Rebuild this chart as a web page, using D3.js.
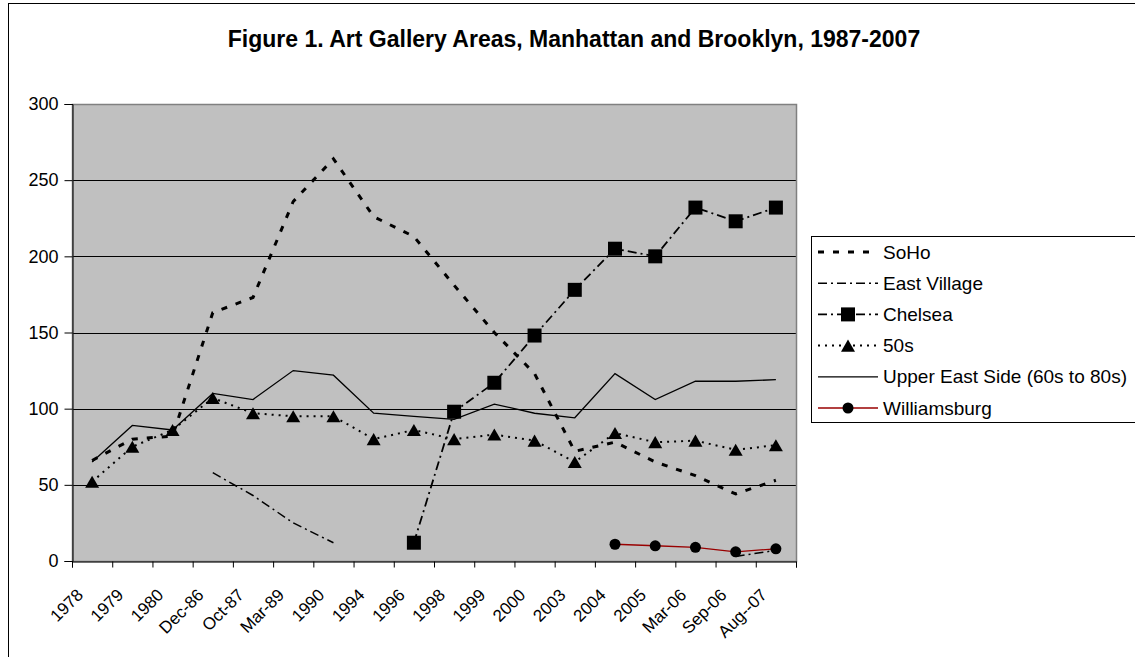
<!DOCTYPE html>
<html>
<head>
<meta charset="utf-8">
<script src="https://cdn.jsdelivr.net/npm/d3@7"></script>
<style>
  body { margin: 0; background: #fff; }
  svg { display: block; font-family: Arial, "Liberation Sans", sans-serif; }
</style>
</head>
<body>
<div id="chart"></div>
<script>
const categories = ["1978", "1979", "1980", "Dec-86", "Oct-87", "Mar-89", "1990", "1994", "1996",
  "1998", "1999", "2000", "2003", "2004", "2005", "Mar-06", "Sep-06", "Aug--07"];

const soho        = [66, 80, 82, 163, 173, 236, 264, 226, 213, 181, 150, 123, 72, 78, 65, 56, 44, 53];
const eastVillage = [null, null, null, 58, 43, 25, 12, null, null, null, null, null, null, null, null, null, 3, 7];
const chelsea     = [null, null, null, null, null, null, null, null, 12, 98, 117, 148, 178, 205, 200, 232, 223, 232];
const fifties     = [52, 75, 86, 107, 97, 95, 95, 80, 86, 80, 83, 79, 65, 84, 78, 79, 73, 76];
const upperEast   = [65, 89, 86, 110, 106, 125, 122, 97, 95, 93, 103, 97, 94, 123, 106, 118, 118, 119];
const williamsburg = [null, null, null, null, null, null, null, null, null, null, null, null, null, 11, 10, 9, 6, 8];

const yTicks = [0, 50, 100, 150, 200, 250, 300];
const title = "Figure 1. Art Gallery Areas, Manhattan and Brooklyn, 1987-2007";

const series = [
  { name: "SoHo", values: soho, stroke: "#000", width: 3, dash: "6,9", marker: null },
  { name: "East Village", values: eastVillage, stroke: "#000", width: 1.5, dash: "9,4,2,4", marker: null },
  { name: "Chelsea", values: chelsea, stroke: "#000", width: 1.8, dash: "9,4,2,4", marker: "square" },
  { name: "50s", values: fifties, stroke: "#000", width: 2, dash: "2,5", marker: "triangle" },
  { name: "Upper East Side (60s to 80s)", values: upperEast, stroke: "#000", width: 1.3, dash: null, marker: null },
  { name: "Williamsburg", values: williamsburg, stroke: "#990000", width: 1.3, dash: null, marker: "circle" }
];

const W = 1135, H = 657;
const plot = { left: 72, right: 796, top: 104, bottom: 561 };

const svg = d3.select("#chart").append("svg")
  .attr("width", W)
  .attr("height", H);

svg.append("rect")
  .attr("width", W).attr("height", H)
  .attr("fill", "#fff");

// chart area border (runs off the right/bottom edge like the source)
svg.append("rect")
  .attr("x", 8.5).attr("y", 3.5)
  .attr("width", 1200).attr("height", 700)
  .attr("fill", "none")
  .attr("stroke", "#000")
  .attr("stroke-width", 1);

svg.append("text")
  .attr("x", 574)
  .attr("y", 47)
  .attr("text-anchor", "middle")
  .style("font-size", "23px")
  .style("font-weight", "bold")
  .text(title);

const x = d3.scaleBand()
  .domain(categories)
  .range([plot.left, plot.right]);

const xIdx = d3.scaleLinear()
  .domain([0, categories.length])
  .range([plot.left, plot.right]);

const y = d3.scaleLinear()
  .domain([0, 300])
  .range([plot.bottom, plot.top]);

const cx = c => x(c) + x.bandwidth() / 2;

svg.append("rect")
  .attr("x", plot.left).attr("y", plot.top)
  .attr("width", plot.right - plot.left)
  .attr("height", plot.bottom - plot.top)
  .attr("fill", "#c0c0c0");

// gridlines
svg.append("g")
  .selectAll("line")
  .data(yTicks.filter(d => d > 0 && d < 300))
  .join("line")
  .attr("x1", plot.left).attr("x2", plot.right)
  .attr("y1", d => Math.round(y(d)) + 0.5)
  .attr("y2", d => Math.round(y(d)) + 0.5)
  .attr("stroke", "#000")
  .attr("stroke-width", 1);

// plot border
svg.append("rect")
  .attr("x", plot.left + 0.5).attr("y", plot.top + 0.5)
  .attr("width", plot.right - plot.left)
  .attr("height", plot.bottom - plot.top)
  .attr("fill", "none")
  .attr("stroke", "#808080")
  .attr("stroke-width", 1.5);

// y axis
const yAxis = svg.append("g")
  .attr("transform", `translate(${plot.left + 0.5},0)`)
  .call(d3.axisLeft(y).tickValues(yTicks).tickSize(8).tickPadding(6));
yAxis.select(".domain").attr("stroke", "#000").attr("stroke-width", 1);
yAxis.selectAll(".tick line").attr("stroke", "#000");
yAxis.selectAll("text")
  .style("font-size", "18px")
  .style("font-family", "Arial, 'Liberation Sans', sans-serif")
  .attr("fill", "#000");

// x axis, ticks between categories
const xAxis = svg.append("g")
  .attr("transform", `translate(0,${plot.bottom + 0.5})`)
  .call(d3.axisBottom(xIdx).tickValues(d3.range(categories.length + 1)).tickSize(6).tickFormat(""));
xAxis.select(".domain").attr("stroke", "#000");
xAxis.selectAll(".tick line").attr("stroke", "#000");

svg.append("g")
  .selectAll("text")
  .data(categories)
  .join("text")
  .attr("transform", d => `translate(${cx(d) - 8},${plot.bottom + 35}) rotate(-45)`)
  .attr("text-anchor", "end")
  .style("font-size", "17px")
  .text(d => d);

// series
const line = d3.line()
  .defined(d => d.v != null)
  .x(d => cx(d.c))
  .y(d => y(d.v));

const triangle = d3.symbol().type(d3.symbolTriangle).size(85);

function drawMarker(g, type, px, py) {
  if (type === "square") {
    g.append("rect")
      .attr("x", px - 7).attr("y", py - 7)
      .attr("width", 14).attr("height", 14)
      .attr("fill", "#000");
  } else if (type === "triangle") {
    g.append("path")
      .attr("d", triangle())
      .attr("transform", `translate(${px},${py + 2})`)
      .attr("fill", "#000");
  } else if (type === "circle") {
    g.append("circle")
      .attr("cx", px).attr("cy", py)
      .attr("r", 5.5)
      .attr("fill", "#000");
  }
}

series.forEach(s => {
  const pts = categories.map((c, i) => ({ c, v: s.values[i] }));
  const g = svg.append("g");
  g.append("path")
    .datum(pts)
    .attr("fill", "none")
    .attr("stroke", s.stroke)
    .attr("stroke-width", s.width)
    .attr("stroke-dasharray", s.dash)
    .attr("d", line);
  if (s.marker) {
    pts.filter(d => d.v != null).forEach(d => drawMarker(g, s.marker, cx(d.c), y(d.v)));
  }
});

// legend
const legend = svg.append("g");
legend.append("rect")
  .attr("x", 811.5).attr("y", 236.5)
  .attr("width", 400).attr("height", 186)
  .attr("fill", "#fff")
  .attr("stroke", "#000")
  .attr("stroke-width", 1);

series.forEach((s, i) => {
  const ly = 252 + i * 31.2;
  legend.append("line")
    .attr("x1", 818).attr("x2", 878)
    .attr("y1", ly).attr("y2", ly)
    .attr("stroke", s.stroke)
    .attr("stroke-width", s.width)
    .attr("stroke-dasharray", s.dash);
  if (s.marker) drawMarker(legend, s.marker, 848, ly);
  legend.append("text")
    .attr("x", 883)
    .attr("y", ly)
    .attr("dy", "0.35em")
    .style("font-size", "19px")
    .text(s.name);
});
</script>
</body>
</html>
